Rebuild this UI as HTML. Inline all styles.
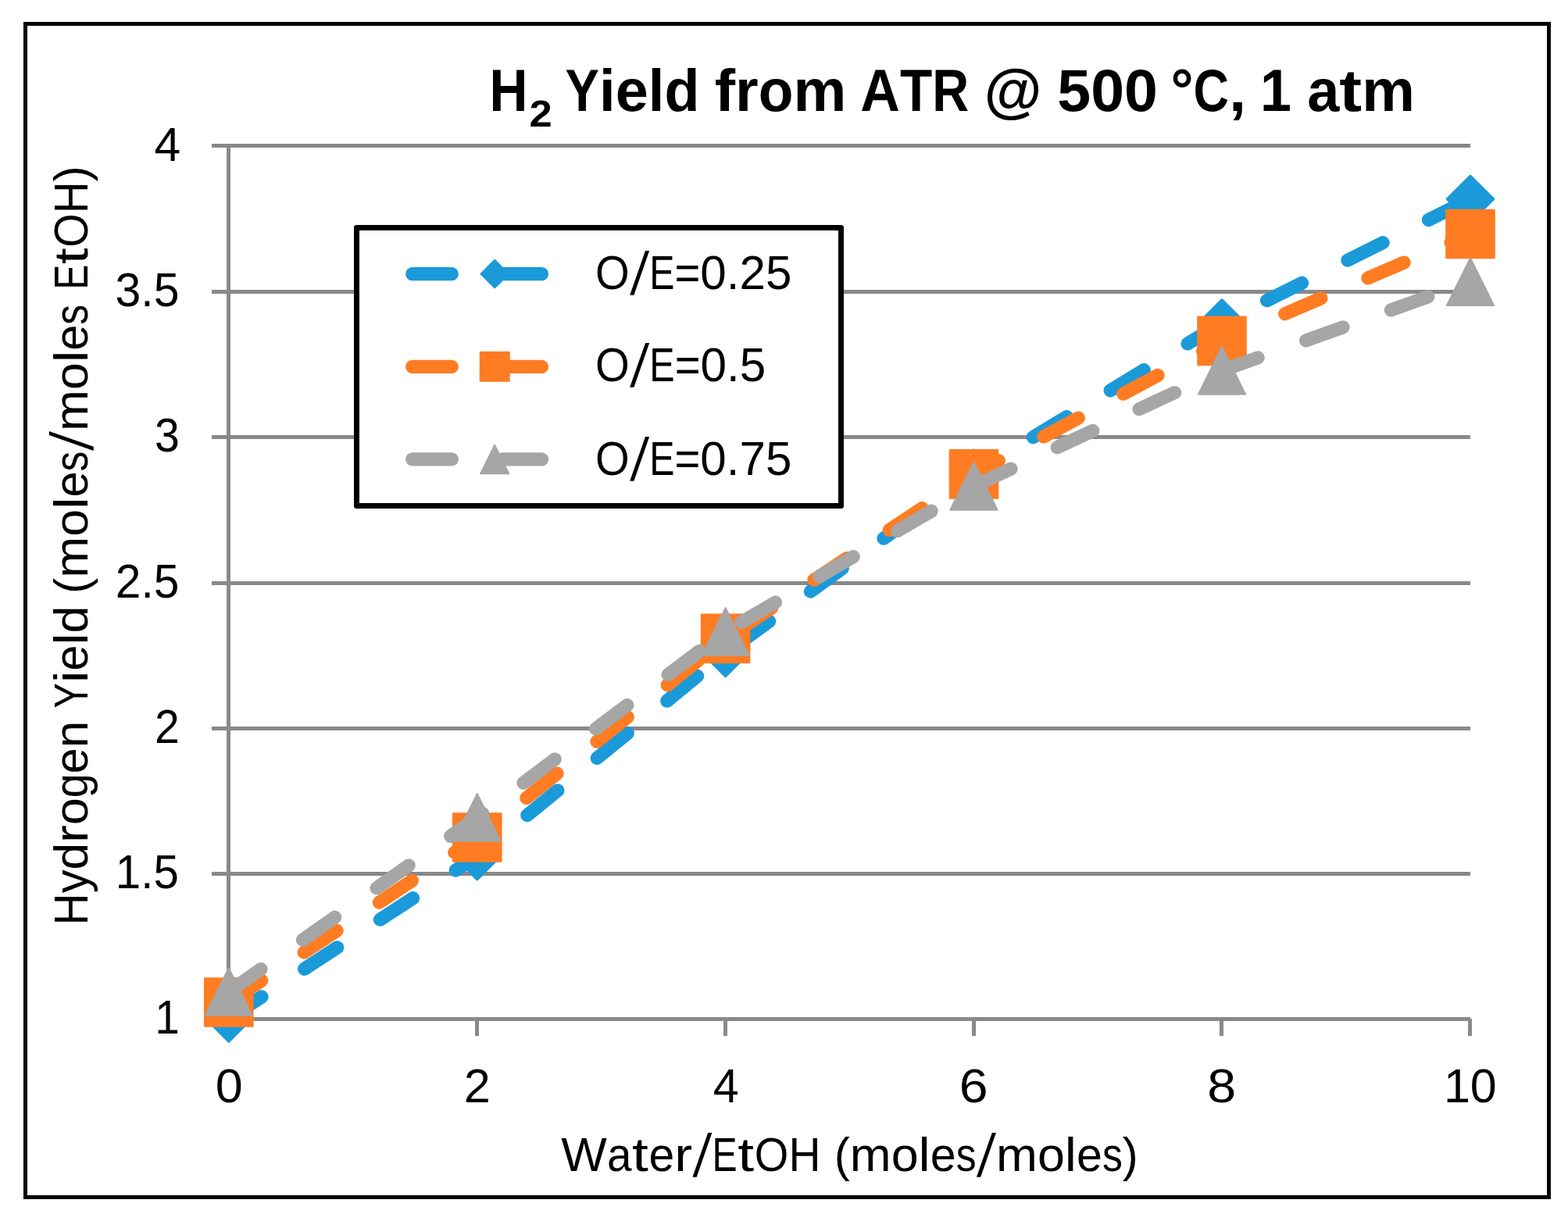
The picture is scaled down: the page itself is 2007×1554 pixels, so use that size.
<!DOCTYPE html>
<html lang="en">
<head>
<meta charset="utf-8">
<title>H2 Yield from ATR @ 500 °C, 1 atm</title>
<style>
html,body{margin:0;padding:0;background:#ffffff;}
body{width:2007px;height:1554px;overflow:hidden;}
svg{display:block;}
svg text{font-family:"Liberation Sans",sans-serif;fill:#000;white-space:pre;}
</style>
</head>
<body>
<svg width="2007" height="1554" viewBox="0 0 2007 1554" role="img" aria-label="Hydrogen yield chart">
<rect x="0" y="0" width="2007" height="1554" fill="#ffffff"/>
<rect x="32.5" y="30.5" width="1950" height="1502" fill="none" stroke="#000" stroke-width="5"/>
<g stroke="#898989" stroke-width="5" fill="none">
<line x1="271" y1="186.5" x2="1882" y2="186.5"/>
<line x1="271" y1="373.5" x2="1882" y2="373.5"/>
<line x1="271" y1="559.5" x2="1882" y2="559.5"/>
<line x1="271" y1="746.5" x2="1882" y2="746.5"/>
<line x1="271" y1="932.5" x2="1882" y2="932.5"/>
<line x1="271" y1="1118.5" x2="1882" y2="1118.5"/>
<line x1="271" y1="1304.5" x2="1882" y2="1304.5"/>
<line x1="292.5" y1="184" x2="292.5" y2="1307"/>
<line x1="610.5" y1="1304" x2="610.5" y2="1326"/>
<line x1="928.5" y1="1304" x2="928.5" y2="1326"/>
<line x1="1246.5" y1="1304" x2="1246.5" y2="1326"/>
<line x1="1563.5" y1="1304" x2="1563.5" y2="1326"/>
<line x1="1881.5" y1="1304" x2="1881.5" y2="1326"/>
</g>

<rect x="456.5" y="291.5" width="620" height="356" fill="#ffffff" stroke="#000" stroke-width="7" stroke-linejoin="round"/>
<g fill="#1b9ad9" stroke="#1b9ad9" stroke-linejoin="round" stroke-linecap="round"><line x1="527.7" y1="350.6" x2="693.5" y2="350.6" stroke-width="17.25" stroke-dasharray="50.6 64.6"/><polygon points="633.2,333.2 650.6,350.6 633.2,368.0 615.8,350.6" stroke-width="2.5"/></g>
<g fill="#ff7c22" stroke="#ff7c22" stroke-linejoin="round" stroke-linecap="round"><line x1="527.7" y1="469.3" x2="693.5" y2="469.3" stroke-width="17.25" stroke-dasharray="50.6 64.6"/><rect x="615.0" y="451.1" width="36.5" height="36.5" stroke-width="2.5"/></g>
<g fill="#a6a6a6" stroke="#a6a6a6" stroke-linejoin="round" stroke-linecap="round"><line x1="527.7" y1="587.9" x2="693.5" y2="587.9" stroke-width="17.25" stroke-dasharray="50.6 64.6"/><polygon points="633.2,569.4 651.5,606.4 614.9,606.4" stroke-width="1.6"/></g>

<g fill="#1b9ad9" stroke="#1b9ad9" stroke-linejoin="round" stroke-linecap="round">
<polyline points="292.8,1303.5 610.8,1096.0 928.6,836.0 1246.5,605.5 1564.0,413.4 1882.0,254.8" fill="none" stroke-width="17.25" stroke-dasharray="50.3 65.3"/>
<polygon points="292.8,1274.1 322.2,1303.5 292.8,1332.9 263.4,1303.5" stroke-width="3.5"/>
<polygon points="610.8,1066.6 640.2,1096.0 610.8,1125.4 581.4,1096.0" stroke-width="3.5"/>
<polygon points="928.6,806.6 958.0,836.0 928.6,865.4 899.2,836.0" stroke-width="3.5"/>
<polygon points="1246.5,576.1 1275.9,605.5 1246.5,634.9 1217.1,605.5" stroke-width="3.5"/>
<polygon points="1564.0,384.0 1593.4,413.4 1564.0,442.8 1534.6,413.4" stroke-width="3.5"/>
<polygon points="1882.0,225.4 1911.4,254.8 1882.0,284.2 1852.6,254.8" stroke-width="3.5"/>
</g>

<g fill="#ff7c22" stroke="#ff7c22" stroke-linejoin="round" stroke-linecap="round">
<polyline points="292.8,1283.0 610.8,1072.0 928.6,817.4 1246.5,606.9 1564.0,436.4 1882.0,299.5" fill="none" stroke-width="17.25" stroke-dasharray="50.3 65.3"/>
<rect x="262.0" y="1252.2" width="61.6" height="61.6" stroke-width="2.0"/>
<rect x="580.0" y="1041.2" width="61.6" height="61.6" stroke-width="2.0"/>
<rect x="897.8" y="786.6" width="61.6" height="61.6" stroke-width="2.0"/>
<rect x="1215.7" y="576.1" width="61.6" height="61.6" stroke-width="2.0"/>
<rect x="1533.2" y="405.6" width="61.6" height="61.6" stroke-width="2.0"/>
<rect x="1851.2" y="268.7" width="61.6" height="61.6" stroke-width="2.0"/>
</g>

<g fill="#a6a6a6" stroke="#a6a6a6" stroke-linejoin="round" stroke-linecap="round">
<polyline points="292.8,1269.5 610.8,1046.4 928.6,808.5 1246.5,622.3 1564.0,474.4 1882.0,360.5" fill="none" stroke-width="17.25" stroke-dasharray="50.3 65.3"/>
<polygon points="292.8,1239.1 322.9,1299.9 262.7,1299.9" stroke-width="2.0"/>
<polygon points="610.8,1016.0 640.9,1076.8 580.7,1076.8" stroke-width="2.0"/>
<polygon points="928.6,778.1 958.7,838.9 898.5,838.9" stroke-width="2.0"/>
<polygon points="1246.5,591.9 1276.6,652.7 1216.4,652.7" stroke-width="2.0"/>
<polygon points="1564.0,444.0 1594.1,504.8 1533.9,504.8" stroke-width="2.0"/>
<polygon points="1882.0,330.1 1912.1,390.9 1851.9,390.9" stroke-width="2.0"/>
</g>

<text class="title"><tspan x="626.47" y="142.0" font-size="76.45" font-weight="bold" textLength="48.95" lengthAdjust="spacingAndGlyphs">H</tspan><tspan x="677.53" y="162.0" font-size="48.57" font-weight="bold" textLength="29.25" lengthAdjust="spacingAndGlyphs">2</tspan> <tspan x="723.59" y="142.0" font-size="76.45" font-weight="bold" textLength="43.52" lengthAdjust="spacingAndGlyphs">Y</tspan><tspan x="767.11" y="142.0" font-size="76.45" font-weight="bold" textLength="20.59" lengthAdjust="spacingAndGlyphs">i</tspan><tspan x="787.70" y="142.0" font-size="76.45" font-weight="bold" textLength="42.09" lengthAdjust="spacingAndGlyphs">e</tspan><tspan x="829.79" y="142.0" font-size="76.45" font-weight="bold" textLength="20.59" lengthAdjust="spacingAndGlyphs">l</tspan><tspan x="850.38" y="142.0" font-size="76.45" font-weight="bold" textLength="44.95" lengthAdjust="spacingAndGlyphs">d</tspan> <tspan x="914.66" y="142.0" font-size="76.45" font-weight="bold" textLength="26.37" lengthAdjust="spacingAndGlyphs">f</tspan><tspan x="941.03" y="142.0" font-size="76.45" font-weight="bold" textLength="29.63" lengthAdjust="spacingAndGlyphs">r</tspan><tspan x="970.66" y="142.0" font-size="76.45" font-weight="bold" textLength="44.76" lengthAdjust="spacingAndGlyphs">o</tspan><tspan x="1015.42" y="142.0" font-size="76.45" font-weight="bold" textLength="67.84" lengthAdjust="spacingAndGlyphs">m</tspan> <tspan x="1101.37" y="142.0" font-size="76.45" font-weight="bold" textLength="50.55" lengthAdjust="spacingAndGlyphs">A</tspan><tspan x="1151.91" y="142.0" font-size="76.45" font-weight="bold" textLength="41.30" lengthAdjust="spacingAndGlyphs">T</tspan><tspan x="1193.21" y="142.0" font-size="76.45" font-weight="bold" textLength="46.96" lengthAdjust="spacingAndGlyphs">R</tspan> <tspan x="1259.84" y="142.0" font-size="76.45" font-weight="bold" textLength="73.76" lengthAdjust="spacingAndGlyphs">@</tspan> <tspan x="1353.27" y="142.0" font-size="76.45" font-weight="bold" textLength="42.89" lengthAdjust="spacingAndGlyphs">5</tspan><tspan x="1396.16" y="142.0" font-size="76.45" font-weight="bold" textLength="42.89" lengthAdjust="spacingAndGlyphs">0</tspan><tspan x="1439.06" y="142.0" font-size="76.45" font-weight="bold" textLength="42.89" lengthAdjust="spacingAndGlyphs">0</tspan> <tspan x="1498.45" y="142.0" font-size="76.45" font-weight="bold" textLength="29.08" lengthAdjust="spacingAndGlyphs">°</tspan><tspan x="1527.53" y="142.0" font-size="76.45" font-weight="bold" textLength="45.49" lengthAdjust="spacingAndGlyphs">C</tspan><tspan x="1573.02" y="142.0" font-size="76.45" font-weight="bold" textLength="22.16" lengthAdjust="spacingAndGlyphs">,</tspan> <tspan x="1613.00" y="142.0" font-size="76.45" font-weight="bold" textLength="39.96" lengthAdjust="spacingAndGlyphs">1</tspan> <tspan x="1673.17" y="142.0" font-size="76.45" font-weight="bold" textLength="41.11" lengthAdjust="spacingAndGlyphs">a</tspan><tspan x="1714.28" y="142.0" font-size="76.45" font-weight="bold" textLength="28.85" lengthAdjust="spacingAndGlyphs">t</tspan><tspan x="1743.13" y="142.0" font-size="76.45" font-weight="bold" textLength="67.73" lengthAdjust="spacingAndGlyphs">m</tspan></text>
<text class="yt"><tspan x="197.61" y="205.8" font-size="61.48" textLength="33.75" lengthAdjust="spacingAndGlyphs">4</tspan></text>
<text class="yt"><tspan x="147.58" y="391.8" font-size="61.48" textLength="32.79" lengthAdjust="spacingAndGlyphs">3</tspan><tspan x="180.37" y="391.8" font-size="61.48" textLength="16.33" lengthAdjust="spacingAndGlyphs">.</tspan><tspan x="196.71" y="391.8" font-size="61.48" textLength="32.79" lengthAdjust="spacingAndGlyphs">5</tspan></text>
<text class="yt"><tspan x="198.04" y="578.0" font-size="61.48" textLength="31.83" lengthAdjust="spacingAndGlyphs">3</tspan></text>
<text class="yt"><tspan x="147.84" y="764.6" font-size="61.48" textLength="32.65" lengthAdjust="spacingAndGlyphs">2</tspan><tspan x="180.48" y="764.6" font-size="61.48" textLength="16.26" lengthAdjust="spacingAndGlyphs">.</tspan><tspan x="196.74" y="764.6" font-size="61.48" textLength="32.65" lengthAdjust="spacingAndGlyphs">5</tspan></text>
<text class="yt"><tspan x="198.01" y="951.0" font-size="61.48" textLength="31.75" lengthAdjust="spacingAndGlyphs">2</tspan></text>
<text class="yt"><tspan x="147.86" y="1137.2" font-size="61.48" textLength="32.43" lengthAdjust="spacingAndGlyphs">1</tspan><tspan x="180.29" y="1137.2" font-size="61.48" textLength="16.15" lengthAdjust="spacingAndGlyphs">.</tspan><tspan x="196.44" y="1137.2" font-size="61.48" textLength="32.43" lengthAdjust="spacingAndGlyphs">5</tspan></text>
<text class="yt"><tspan x="198.18" y="1323.1" font-size="61.48" textLength="31.56" lengthAdjust="spacingAndGlyphs">1</tspan></text>
<text class="xt"><tspan x="275.85" y="1411.3" font-size="61.48" textLength="34.99" lengthAdjust="spacingAndGlyphs">0</tspan></text>
<text class="xt"><tspan x="593.71" y="1411.3" font-size="61.48" textLength="34.07" lengthAdjust="spacingAndGlyphs">2</tspan></text>
<text class="xt"><tspan x="912.64" y="1411.3" font-size="61.48" textLength="32.97" lengthAdjust="spacingAndGlyphs">4</tspan></text>
<text class="xt"><tspan x="1227.76" y="1411.3" font-size="61.48" textLength="36.87" lengthAdjust="spacingAndGlyphs">6</tspan></text>
<text class="xt"><tspan x="1545.36" y="1411.3" font-size="61.48" textLength="36.87" lengthAdjust="spacingAndGlyphs">8</tspan></text>
<text class="xt"><tspan x="1847.94" y="1411.3" font-size="61.48" textLength="33.92" lengthAdjust="spacingAndGlyphs">1</tspan><tspan x="1881.85" y="1411.3" font-size="61.48" textLength="33.92" lengthAdjust="spacingAndGlyphs">0</tspan></text>
<text class="xl"><tspan x="718.30" y="1498.6" font-size="61.48" textLength="58.60" lengthAdjust="spacingAndGlyphs">W</tspan><tspan x="776.90" y="1498.6" font-size="61.48" textLength="31.53" lengthAdjust="spacingAndGlyphs">a</tspan><tspan x="809.03" y="1498.6" font-size="61.48" textLength="20.84" lengthAdjust="spacingAndGlyphs">t</tspan><tspan x="830.48" y="1498.6" font-size="61.48" textLength="32.75" lengthAdjust="spacingAndGlyphs">e</tspan><tspan x="863.23" y="1498.6" font-size="61.48" textLength="22.95" lengthAdjust="spacingAndGlyphs">r</tspan></text><text class="xl" transform="translate(886.62 1505.94) skewX(-6.50) scale(1.080 1.260)" font-size="61.48">/</text><text class="xl"><tspan x="911.60" y="1498.6" font-size="61.48" textLength="32.14" lengthAdjust="spacingAndGlyphs">E</tspan><tspan x="944.35" y="1498.6" font-size="61.48" textLength="20.84" lengthAdjust="spacingAndGlyphs">t</tspan><tspan x="965.79" y="1498.6" font-size="61.48" textLength="43.58" lengthAdjust="spacingAndGlyphs">O</tspan><tspan x="1009.38" y="1498.6" font-size="61.48" textLength="41.01" lengthAdjust="spacingAndGlyphs">H</tspan> <tspan x="1067.78" y="1498.6" font-size="61.48" textLength="20.06" lengthAdjust="spacingAndGlyphs">(</tspan><tspan x="1087.84" y="1498.6" font-size="61.48" textLength="52.85" lengthAdjust="spacingAndGlyphs">m</tspan><tspan x="1140.70" y="1498.6" font-size="61.48" textLength="34.89" lengthAdjust="spacingAndGlyphs">o</tspan><tspan x="1175.59" y="1498.6" font-size="61.48" textLength="15.18" lengthAdjust="spacingAndGlyphs">l</tspan><tspan x="1190.77" y="1498.6" font-size="61.48" textLength="32.92" lengthAdjust="spacingAndGlyphs">e</tspan><tspan x="1223.69" y="1498.6" font-size="61.48" textLength="25.88" lengthAdjust="spacingAndGlyphs">s</tspan></text><text class="xl" transform="translate(1250.02 1505.94) skewX(-6.63) scale(1.080 1.260)" font-size="61.48">/</text><text class="xl"><tspan x="1275.12" y="1498.6" font-size="61.48" textLength="52.85" lengthAdjust="spacingAndGlyphs">m</tspan><tspan x="1327.98" y="1498.6" font-size="61.48" textLength="34.89" lengthAdjust="spacingAndGlyphs">o</tspan><tspan x="1362.87" y="1498.6" font-size="61.48" textLength="15.18" lengthAdjust="spacingAndGlyphs">l</tspan><tspan x="1378.05" y="1498.6" font-size="61.48" textLength="32.92" lengthAdjust="spacingAndGlyphs">e</tspan><tspan x="1410.97" y="1498.6" font-size="61.48" textLength="25.88" lengthAdjust="spacingAndGlyphs">s</tspan><tspan x="1436.85" y="1498.6" font-size="61.48" textLength="20.06" lengthAdjust="spacingAndGlyphs">)</tspan></text>
<text class="yl" transform="translate(112.0 0) rotate(-90)"><tspan x="-1184.42" y="0.0" font-size="61.48" textLength="41.06" lengthAdjust="spacingAndGlyphs">H</tspan><tspan x="-1143.37" y="0.0" font-size="61.48" textLength="29.83" lengthAdjust="spacingAndGlyphs">y</tspan><tspan x="-1113.54" y="0.0" font-size="61.48" textLength="34.62" lengthAdjust="spacingAndGlyphs">d</tspan><tspan x="-1078.91" y="0.0" font-size="61.48" textLength="22.97" lengthAdjust="spacingAndGlyphs">r</tspan><tspan x="-1055.94" y="0.0" font-size="61.48" textLength="34.75" lengthAdjust="spacingAndGlyphs">o</tspan><tspan x="-1021.19" y="0.0" font-size="61.48" textLength="31.02" lengthAdjust="spacingAndGlyphs">g</tspan><tspan x="-990.17" y="0.0" font-size="61.48" textLength="32.79" lengthAdjust="spacingAndGlyphs">e</tspan><tspan x="-957.38" y="0.0" font-size="61.48" textLength="34.62" lengthAdjust="spacingAndGlyphs">n</tspan> <tspan x="-906.48" y="0.0" font-size="61.48" textLength="32.38" lengthAdjust="spacingAndGlyphs">Y</tspan><tspan x="-874.10" y="0.0" font-size="61.48" textLength="15.27" lengthAdjust="spacingAndGlyphs">i</tspan><tspan x="-858.83" y="0.0" font-size="61.48" textLength="33.10" lengthAdjust="spacingAndGlyphs">e</tspan><tspan x="-825.73" y="0.0" font-size="61.48" textLength="15.27" lengthAdjust="spacingAndGlyphs">l</tspan><tspan x="-810.47" y="0.0" font-size="61.48" textLength="34.95" lengthAdjust="spacingAndGlyphs">d</tspan> <tspan x="-759.93" y="0.0" font-size="61.48" textLength="20.13" lengthAdjust="spacingAndGlyphs">(</tspan><tspan x="-739.80" y="0.0" font-size="61.48" textLength="53.02" lengthAdjust="spacingAndGlyphs">m</tspan><tspan x="-686.78" y="0.0" font-size="61.48" textLength="35.00" lengthAdjust="spacingAndGlyphs">o</tspan><tspan x="-651.78" y="0.0" font-size="61.48" textLength="15.23" lengthAdjust="spacingAndGlyphs">l</tspan><tspan x="-636.55" y="0.0" font-size="61.48" textLength="33.02" lengthAdjust="spacingAndGlyphs">e</tspan><tspan x="-603.52" y="0.0" font-size="61.48" textLength="25.96" lengthAdjust="spacingAndGlyphs">s</tspan></text><text class="yl" transform="translate(112.0 0) rotate(-90) translate(-577.12 7.34) skewX(-6.71) scale(1.080 1.260)" font-size="61.48">/</text><text class="yl" transform="translate(112.0 0) rotate(-90)"><tspan x="-551.93" y="0.0" font-size="61.48" textLength="53.02" lengthAdjust="spacingAndGlyphs">m</tspan><tspan x="-498.91" y="0.0" font-size="61.48" textLength="35.00" lengthAdjust="spacingAndGlyphs">o</tspan><tspan x="-463.91" y="0.0" font-size="61.48" textLength="15.23" lengthAdjust="spacingAndGlyphs">l</tspan><tspan x="-448.67" y="0.0" font-size="61.48" textLength="33.02" lengthAdjust="spacingAndGlyphs">e</tspan><tspan x="-415.65" y="0.0" font-size="61.48" textLength="25.96" lengthAdjust="spacingAndGlyphs">s</tspan> <tspan x="-370.81" y="0.0" font-size="61.48" textLength="32.07" lengthAdjust="spacingAndGlyphs">E</tspan><tspan x="-338.16" y="0.0" font-size="61.48" textLength="20.84" lengthAdjust="spacingAndGlyphs">t</tspan><tspan x="-316.74" y="0.0" font-size="61.48" textLength="43.49" lengthAdjust="spacingAndGlyphs">O</tspan><tspan x="-273.25" y="0.0" font-size="61.48" textLength="40.92" lengthAdjust="spacingAndGlyphs">H</tspan><tspan x="-232.33" y="0.0" font-size="61.48" textLength="19.92" lengthAdjust="spacingAndGlyphs">)</tspan></text>
<text class="lg"><tspan x="762.01" y="370.0" font-size="61.48" textLength="43.70" lengthAdjust="spacingAndGlyphs">O</tspan></text><text class="lg" transform="translate(806.16 377.34) skewX(-6.57) scale(1.080 1.260)" font-size="61.48">/</text><text class="lg"><tspan x="831.21" y="370.0" font-size="61.48" textLength="32.23" lengthAdjust="spacingAndGlyphs">E</tspan><tspan x="863.44" y="370.0" font-size="61.48" textLength="32.88" lengthAdjust="spacingAndGlyphs">=</tspan><tspan x="896.31" y="370.0" font-size="61.48" textLength="33.46" lengthAdjust="spacingAndGlyphs">0</tspan><tspan x="929.77" y="370.0" font-size="61.48" textLength="16.66" lengthAdjust="spacingAndGlyphs">.</tspan><tspan x="946.43" y="370.0" font-size="61.48" textLength="33.46" lengthAdjust="spacingAndGlyphs">2</tspan><tspan x="979.89" y="370.0" font-size="61.48" textLength="33.46" lengthAdjust="spacingAndGlyphs">5</tspan></text>
<text class="lg"><tspan x="762.00" y="487.8" font-size="61.48" textLength="43.80" lengthAdjust="spacingAndGlyphs">O</tspan></text><text class="lg" transform="translate(806.25 495.14) skewX(-6.63) scale(1.080 1.260)" font-size="61.48">/</text><text class="lg"><tspan x="831.35" y="487.8" font-size="61.48" textLength="32.30" lengthAdjust="spacingAndGlyphs">E</tspan><tspan x="863.65" y="487.8" font-size="61.48" textLength="32.95" lengthAdjust="spacingAndGlyphs">=</tspan><tspan x="896.59" y="487.8" font-size="61.48" textLength="33.53" lengthAdjust="spacingAndGlyphs">0</tspan><tspan x="930.12" y="487.8" font-size="61.48" textLength="16.70" lengthAdjust="spacingAndGlyphs">.</tspan><tspan x="946.82" y="487.8" font-size="61.48" textLength="33.53" lengthAdjust="spacingAndGlyphs">5</tspan></text>
<text class="lg"><tspan x="762.01" y="607.5" font-size="61.48" textLength="43.70" lengthAdjust="spacingAndGlyphs">O</tspan></text><text class="lg" transform="translate(806.16 614.84) skewX(-6.57) scale(1.080 1.260)" font-size="61.48">/</text><text class="lg"><tspan x="831.21" y="607.5" font-size="61.48" textLength="32.23" lengthAdjust="spacingAndGlyphs">E</tspan><tspan x="863.44" y="607.5" font-size="61.48" textLength="32.88" lengthAdjust="spacingAndGlyphs">=</tspan><tspan x="896.31" y="607.5" font-size="61.48" textLength="33.46" lengthAdjust="spacingAndGlyphs">0</tspan><tspan x="929.77" y="607.5" font-size="61.48" textLength="16.66" lengthAdjust="spacingAndGlyphs">.</tspan><tspan x="946.43" y="607.5" font-size="61.48" textLength="33.46" lengthAdjust="spacingAndGlyphs">7</tspan><tspan x="979.89" y="607.5" font-size="61.48" textLength="33.46" lengthAdjust="spacingAndGlyphs">5</tspan></text>
</svg>
</body>
</html>
